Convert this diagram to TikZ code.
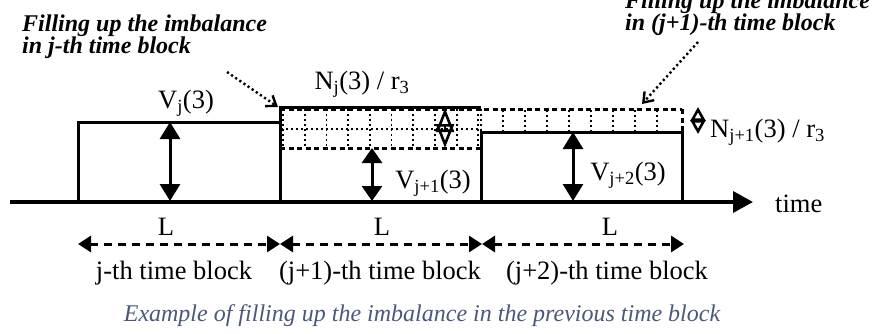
\documentclass[tikz,border=0pt]{standalone}
\usepackage{fontspec}
\setmainfont{Liberation Serif}
\usetikzlibrary{arrows.meta}
\definecolor{capblue}{RGB}{74,88,122}
\tikzset{
  blockline/.style={line width=3pt},
  axisline/.style={line width=3.6pt,-{Triangle[length=20pt,width=21pt]}},
  gridline/.style={line width=1.8pt,dash pattern=on 2pt off 3pt},
  borderdash/.style={line width=3pt,dash pattern=on 5pt off 3.5pt},
  pointer/.style={line width=2.4pt,dash pattern=on 2.2pt off 2.8pt,-{Straight Barb[length=9pt,width=13pt,line width=2.4pt]}},
  lenarrow/.style={line width=3pt,dash pattern=on 8pt off 6pt,{Triangle[length=13pt,width=16pt]}-{Triangle[length=13pt,width=16pt]}},
  vdouble/.style={line width=3pt,{Triangle[length=17pt,width=20pt]}-{Triangle[length=17pt,width=20pt]}},
  opendouble/.style={line width=2.6pt,{Triangle[open,length=24pt,width=18pt,line width=2.6pt]}-{Triangle[open,length=24pt,width=18pt,line width=2.6pt]}},
  smalldouble/.style={line width=2.6pt,{Triangle[open,length=14pt,width=15pt,line width=2.6pt]}-{Triangle[open,length=14pt,width=15pt,line width=2.6pt]}},
  lbl/.style={inner sep=0pt,font=\fontsize{26.5}{30}\selectfont},
  boldlbl/.style={inner sep=0pt,font=\fontsize{24}{22}\selectfont\bfseries\itshape,anchor=base west},
  caplbl/.style={inner sep=0pt,font=\fontsize{24}{26}\selectfont\itshape,text=capblue},
}
\begin{document}
\begin{tikzpicture}[x=1pt,y=-1pt]
\useasboundingbox (0,0) rectangle (880,333);
% key coordinates
\coordinate (ax0) at (10,202);
\coordinate (ax1) at (753,202);
\coordinate (b1bl) at (78,202);
\coordinate (b1tl) at (78,122);
\coordinate (b1tr) at (280,122);
\coordinate (b1br) at (280,202);
\coordinate (b2tl) at (280,107);
\coordinate (b2tr) at (481,107);
\coordinate (b3tl) at (481,132);
\coordinate (b3tr) at (682,132);
\coordinate (b3bl) at (481,202);
\coordinate (b3br) at (682,202);
% grid region in block 2
\foreach \i in {0,...,9} \draw[gridline] ({283+21.7*\i},109) -- ({283+21.7*\i},147);
\draw[gridline] (281,129) -- (481,129);
\draw[borderdash] (280,148) -- (482,148);
\draw[borderdash] (280,109) -- (682,109);
\draw[gridline] (481,109) -- (481,132);
% grid region in block 3
\foreach \i in {0,...,7} \draw[gridline] ({503+22*\i},110) -- ({503+22*\i},131);
\draw[borderdash] (682,109) -- (682,132);
% blocks
\draw[blockline] (b1bl) -- (b1tl) -- (b1tr) -- (b1br);
\draw[blockline] (b1br) -- (b2tl) -- (b2tr);
\draw[blockline] (b3bl) -- (b3tl) -- (b3tr) -- (b3br);
% axis
\draw[axisline] (ax0) -- (ax1);
\node[lbl,anchor=west] (time) at (775,204) {time};
% vertical arrows
\coordinate (v1t) at (170,122); \coordinate (v1b) at (170,201);
\coordinate (v2t) at (372,148); \coordinate (v2b) at (372,201);
\coordinate (v3t) at (573,132); \coordinate (v3b) at (573,201);
\draw[vdouble] (v1t) -- (v1b);
\draw[vdouble,{Triangle[length=15pt,width=20pt]}-{Triangle[length=15pt,width=20pt]}] (v2t) -- (v2b);
\draw[vdouble] (v3t) -- (v3b);
\coordinate (d1t) at (445,108); \coordinate (d1b) at (445,148);
\draw[opendouble] (d1t) -- (d1b);
\coordinate (d2t) at (698,107); \coordinate (d2b) at (698,134);
\draw[smalldouble] (d2t) -- (d2b);
% labels
\node[lbl] (vj) at (186,103) {V\textsubscript{j}(3)};
\node[lbl] (nj) at (362,84) {N\textsubscript{j}(3) / r\textsubscript{3}};
\node[lbl] (vj1) at (433,183) {V\textsubscript{j+1}(3)};
\node[lbl] (vj2) at (628,175) {V\textsubscript{j+2}(3)};
\node[lbl,anchor=west] (nj1) at (710,132) {N\textsubscript{j+1}(3) / r\textsubscript{3}};
% pointers
\node[boldlbl] (f1a) at (22,31) {Filling up the imbalance};
\node[boldlbl] (f1b) at (22,53) {in j-th time block};
\node[boldlbl] (f2a) at (625,8) {Filling up the imbalance};
\node[boldlbl] (f2b) at (625,30) {in (j+1)-th time block};
\coordinate (p1s) at (227,72); \coordinate (p1e) at (278,107);
\coordinate (p2s) at (698,42); \coordinate (p2e) at (642,104);
\draw[pointer] (p1s) -- (p1e);
\draw[pointer] (p2s) -- (p2e);
% length arrows
\coordinate (l0) at (78,244); \coordinate (l1) at (280,244);
\coordinate (l2) at (482,244); \coordinate (l3) at (684,244);
\draw[lenarrow] (l0) -- (l1);
\draw[lenarrow] (l1) -- (l2);
\draw[lenarrow] (l2) -- (l3);
\node[lbl] (L1) at (166,227) {L};
\node[lbl] (L2) at (382,227) {L};
\node[lbl] (L3) at (610,227) {L};
\node[lbl] (tb1) at (174,273) {j-th time block};
\node[lbl] (tb2) at (380,273) {(j+1)-th time block};
\node[lbl] (tb3) at (607,273) {(j+2)-th time block};
\node[caplbl] (cap) at (422,316) {Example of filling up the imbalance in the previous time block};
\end{tikzpicture}
\end{document}
